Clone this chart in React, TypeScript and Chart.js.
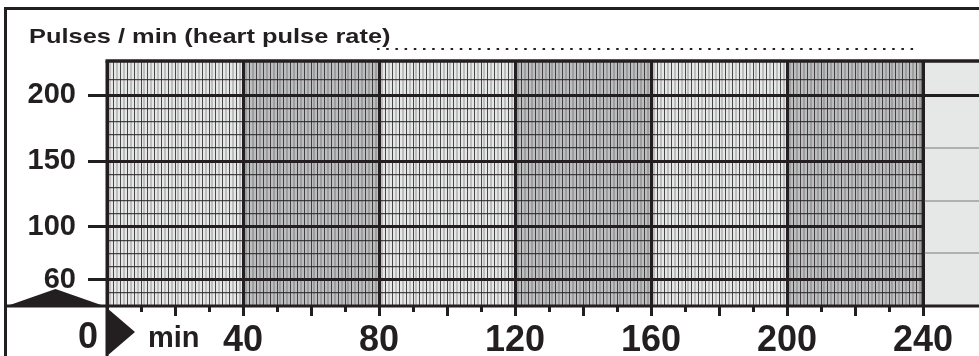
import React, { useEffect, useRef } from 'react';
import { Chart, registerables } from 'chart.js';

Chart.register(...registerables);

// ---- chart content -------------------------------------------------------
const TITLE = 'Pulses / min (heart pulse rate)';
const TIME_ORIGIN_LABEL = '0';
const TIME_UNIT = 'min';

// time axis (minutes)
const MINUTE_MIN = 0;
const MINUTE_MAX = 240;
const SECTION_EDGES = [0, 40, 80, 120, 160, 200, 240];
const MINUTE_LABELS = [40, 80, 120, 160, 200, 240];
const MINUTE_TICKS_LONG = [0, 20, 40, 60, 80, 100, 120, 140, 160, 180, 200, 220, 240];
const MINUTE_TICKS_SHORT = [10, 30, 50, 70, 90, 110, 130, 150, 170, 190, 210, 230];

// pulse axis (beats per minute)
const PULSE_MIN = 40;
const PULSE_MAX = 226;
const PULSE_LABELS = [60, 100, 150, 200];
const PULSE_MINOR = [50, 70, 80, 90, 110, 120, 130, 140, 160, 170, 180, 190, 212];
const MARGIN_LINES = [200, 160, 120, 80];

// recorded pulse readings: the sheet is blank
const PULSE_TIMES: number[] = [];
const PULSE_VALUES: number[] = [];

// ---- styling -------------------------------------------------------------
const INK = '#231f20';
const SHADE_LIGHT = '#e6e7e7';
const SHADE_DARK = '#bdbec0';
const NONE = 'rgba(0,0,0,0)';
const FAMILY = '"Liberation Sans", Arial, Helvetica, sans-serif';

const sheetPlugin = {
  id: 'pulseSheet',
  beforeDraw(chart: any) {
    const { ctx, chartArea: a, scales } = chart;
    const x = scales.x;
    ctx.save();
    ctx.fillStyle = '#ffffff';
    ctx.fillRect(0, 0, chart.width, chart.height);
    for (let i = 0; i < SECTION_EDGES.length - 1; i++) {
      const x0 = x.getPixelForValue(SECTION_EDGES[i]);
      const x1 = x.getPixelForValue(SECTION_EDGES[i + 1]);
      ctx.fillStyle = i % 2 ? SHADE_DARK : SHADE_LIGHT;
      ctx.fillRect(x0, a.top, x1 - x0, a.bottom - a.top);
    }
    ctx.fillStyle = SHADE_LIGHT;
    ctx.fillRect(a.right, a.top, chart.width - a.right, a.bottom - a.top);
    ctx.restore();
  },
  afterDraw(chart: any) {
    const { ctx, chartArea: a, scales } = chart;
    const y = scales.y;
    const W = chart.width;
    const H = chart.height;
    ctx.save();

    // margin column lines to the right of the grid
    MARGIN_LINES.forEach((v) => {
      const py = Math.round(y.getPixelForValue(v));
      const major = PULSE_LABELS.includes(v);
      ctx.strokeStyle = major ? INK : '#7a7b7d';
      ctx.lineWidth = major ? 3 : 1.2;
      ctx.beginPath();
      ctx.moveTo(a.right, py + (major ? 0.5 : 0));
      ctx.lineTo(W, py + (major ? 0.5 : 0));
      ctx.stroke();
    });

    ctx.strokeStyle = INK;
    ctx.lineCap = 'butt';
    // grid frame
    ctx.lineWidth = 3.5;
    ctx.beginPath();
    ctx.moveTo(a.left - 1.5, a.top);
    ctx.lineTo(W, a.top);
    ctx.stroke();
    ctx.lineWidth = 3;
    ctx.beginPath();
    ctx.moveTo(4, a.bottom);
    ctx.lineTo(W, a.bottom);
    ctx.stroke();
    ctx.beginPath();
    ctx.moveTo(a.left, a.top);
    ctx.lineTo(a.left, H);
    ctx.stroke();
    ctx.beginPath();
    ctx.moveTo(a.right, a.top);
    ctx.lineTo(a.right, a.bottom);
    ctx.stroke();
    // outer sheet border
    ctx.beginPath();
    ctx.moveTo(5.5, 7);
    ctx.lineTo(5.5, H);
    ctx.moveTo(4, 8.5);
    ctx.lineTo(W, 8.5);
    ctx.stroke();

    // pointer shapes at the origin
    ctx.fillStyle = INK;
    ctx.beginPath();
    ctx.moveTo(7, a.bottom);
    ctx.lineTo((7 + a.left - 3) / 2, a.bottom - 17);
    ctx.lineTo(a.left - 3, a.bottom);
    ctx.closePath();
    ctx.fill();
    ctx.beginPath();
    ctx.moveTo(a.left, a.bottom + 2);
    ctx.lineTo(a.left + 28, a.bottom + 26);
    ctx.lineTo(a.left, H);
    ctx.closePath();
    ctx.fill();

    // title and writing leader
    ctx.fillStyle = INK;
    ctx.textBaseline = 'alphabetic';
    ctx.textAlign = 'left';
    ctx.font = `bold 21px ${FAMILY}`;
    ctx.save();
    ctx.translate(29, 42.5);
    ctx.scale(1.21, 1);
    ctx.fillText(TITLE, 0, 0);
    ctx.restore();
    ctx.lineWidth = 2;
    ctx.setLineDash([2.5, 6.7]);
    ctx.beginPath();
    ctx.moveTo(377, 49);
    ctx.lineTo(a.right - 5, 49);
    ctx.stroke();
    ctx.setLineDash([]);

    // origin and unit of the time axis
    ctx.font = `bold 36px ${FAMILY}`;
    ctx.textAlign = 'right';
    ctx.fillText(TIME_ORIGIN_LABEL, a.left - 9, 348);
    ctx.font = `bold 29px ${FAMILY}`;
    ctx.textAlign = 'left';
    ctx.fillText(TIME_UNIT, a.left + 41, 347);
    ctx.restore();
  },
};

export default function App() {
  const ref = useRef<HTMLCanvasElement>(null);

  useEffect(() => {
    const canvas = ref.current;
    if (!canvas) return;
    const chart = new Chart(canvas, {
      type: 'scatter',
      data: {
        datasets: [
          {
            label: 'Pulse',
            data: PULSE_TIMES.map((t, i) => ({ x: t, y: PULSE_VALUES[i] })),
            borderColor: INK,
            backgroundColor: INK,
            xAxisID: 'x',
            yAxisID: 'y',
          },
        ],
      },
      options: {
        responsive: false,
        animation: false,
        devicePixelRatio: 1,
        layout: { padding: { top: 61, right: 56, left: 0, bottom: 0 } },
        plugins: { legend: { display: false }, tooltip: { enabled: false }, title: { display: false } },
        scales: {
          x: {
            type: 'linear',
            position: 'bottom',
            min: MINUTE_MIN,
            max: MINUTE_MAX,
            weight: 0,
            afterFit: (s: any) => {
              s.height = 50;
            },
            afterBuildTicks: (s: any) => {
              s.ticks = MINUTE_TICKS_LONG.map((v) => ({ value: v }));
            },
            ticks: {
              autoSkip: false,
              maxRotation: 0,
              padding: 3,
              color: INK,
              font: { family: FAMILY, size: 36, weight: 'bold' },
              callback: (v: any) => (MINUTE_LABELS.includes(Number(v)) ? String(v) : ''),
            },
            grid: {
              z: -1,
              color: (c: any) => (c.tick && SECTION_EDGES.includes(c.tick.value) ? INK : NONE),
              lineWidth: 3,
              drawTicks: true,
              tickLength: 10,
              tickWidth: 3,
              tickColor: INK,
            },
            border: { display: false },
          },
          xMinute: {
            type: 'linear',
            position: 'bottom',
            min: MINUTE_MIN,
            max: MINUTE_MAX,
            weight: -1,
            afterFit: (s: any) => {
              s.height = 0;
            },
            ticks: { display: false, stepSize: 1, autoSkip: false },
            grid: {
              z: -2,
              color: (c: any) => {
                const v = c.tick ? c.tick.value : 0;
                if (SECTION_EDGES.includes(v)) return NONE;
                return v % 2 === 0 ? 'rgba(35,31,32,0.8)' : 'rgba(35,31,32,0.2)';
              },
              lineWidth: (c: any) => {
                const v = c.tick ? c.tick.value : 0;
                return v % 2 === 0 ? 1 : 2;
              },
              drawTicks: true,
              tickLength: 6,
              tickWidth: 3,
              tickColor: (c: any) => (c.tick && MINUTE_TICKS_SHORT.includes(c.tick.value) ? INK : NONE),
            },
            border: { display: false },
          },
          y: {
            type: 'linear',
            position: 'left',
            min: PULSE_MIN,
            max: PULSE_MAX,
            weight: 0,
            afterFit: (s: any) => {
              s.width = 107;
            },
            afterBuildTicks: (s: any) => {
              s.ticks = PULSE_LABELS.map((v) => ({ value: v }));
            },
            ticks: {
              padding: 12,
              color: INK,
              font: { family: FAMILY, size: 29, weight: 'bold' },
            },
            grid: {
              z: -1,
              color: INK,
              lineWidth: 3,
              drawTicks: true,
              tickLength: 19,
              tickWidth: 3,
              tickColor: INK,
            },
            border: { display: false },
          },
          yMinor: {
            type: 'linear',
            position: 'left',
            min: PULSE_MIN,
            max: PULSE_MAX,
            weight: -1,
            afterFit: (s: any) => {
              s.width = 0;
            },
            afterBuildTicks: (s: any) => {
              s.ticks = PULSE_MINOR.map((v) => ({ value: v }));
            },
            ticks: { display: false },
            grid: { z: -2, color: 'rgba(35,31,32,0.8)', lineWidth: 1.2, drawTicks: false },
            border: { display: false },
          },
        },
      },
      plugins: [sheetPlugin],
    } as any);
    return () => chart.destroy();
  }, []);

  return (
    <div style={{ position: 'fixed', left: 0, top: 0, width: 979, height: 356, background: '#fff' }}>
      <canvas ref={ref} width={979} height={356} style={{ display: 'block', width: 979, height: 356 }} />
    </div>
  );
}
